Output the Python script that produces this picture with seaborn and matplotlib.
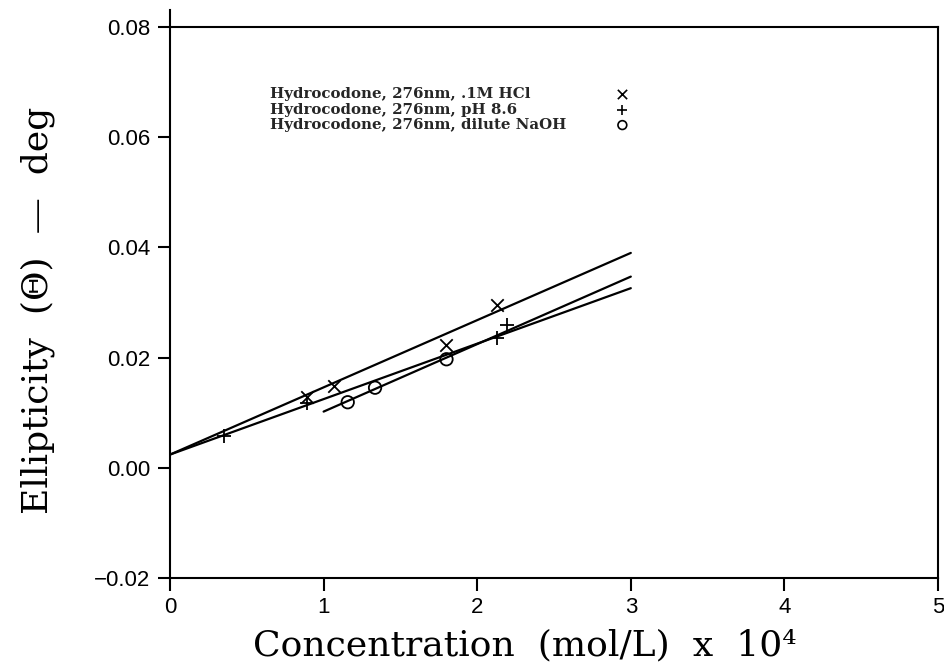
import matplotlib
matplotlib.use("Agg")
import matplotlib.pyplot as plt
import seaborn as sns

# Measured ellipticity vs. concentration (x 10^4 mol/L)
hcl_conc = [0.89, 1.07, 1.797, 2.131]
hcl_ellip = [0.0129, 0.01485, 0.0223, 0.0296]

ph86_conc = [0.352, 0.89, 2.131, 2.196]
ph86_ellip = [0.0058, 0.0118, 0.0235, 0.0259]

naoh_conc = [1.157, 1.335, 1.80]
naoh_ellip = [0.0119, 0.01454, 0.0197]

# Least-squares fit lines, given by their end points
hcl_fit_x = [0.0, 3.0]
hcl_fit_y = [0.0024, 0.0390]
ph86_fit_x = [0.0, 3.0]
ph86_fit_y = [0.0024, 0.0326]
naoh_fit_x = [1.0, 3.0]
naoh_fit_y = [0.0102, 0.0347]

legend_labels = [
    "Hydrocodone, 276nm, .1M HCl",
    "Hydrocodone, 276nm, pH 8.6",
    "Hydrocodone, 276nm, dilute NaOH",
]
x_ticks = [0, 1, 2, 3, 4, 5]
y_ticks = [-0.02, 0.00, 0.02, 0.04, 0.06, 0.08]

sns.set_theme(style="ticks")
plt.rcParams["font.family"] = ["Liberation Sans", "DejaVu Sans"]

fig = plt.figure(figsize=(9.45, 6.7), dpi=100)
ax = fig.add_axes([0.1799, 0.1373, 0.8127, 0.8224])

for fx, fy in [(hcl_fit_x, hcl_fit_y), (ph86_fit_x, ph86_fit_y), (naoh_fit_x, naoh_fit_y)]:
    sns.lineplot(x=fx, y=fy, ax=ax, color="black", linewidth=1.6)

sns.scatterplot(x=hcl_conc, y=hcl_ellip, ax=ax, marker="x", color="black",
                s=80, linewidth=1.3, zorder=5)
sns.scatterplot(x=ph86_conc, y=ph86_ellip, ax=ax, marker="+", color="black",
                s=90, linewidth=1.3, zorder=5)
ax.scatter(naoh_conc, naoh_ellip, marker="o", facecolors="none",
           edgecolors="black", s=80, linewidths=1.3, zorder=5)

# Legend: labels left-aligned, symbols in a column to the right
legend_markers = ["x", "+", "o"]
legend_y = [0.878, 0.850, 0.822]
for lab, mk, yy in zip(legend_labels, legend_markers, legend_y):
    ax.text(0.130, yy, lab, transform=ax.transAxes, ha="left", va="center",
            fontsize=10.8, fontweight="bold", family=["DejaVu Serif"])
    if mk == "o":
        ax.scatter([0.589], [yy], transform=ax.transAxes, marker=mk,
                   facecolors="none", edgecolors="black", s=40, linewidths=1.2)
    else:
        ax.scatter([0.589], [yy], transform=ax.transAxes, marker=mk,
                   color="black", s=45, linewidths=1.2)

ax.set_xlim(0, 5)
ax.set_ylim(-0.02, 0.08)
ax.set_xticks(x_ticks)
ax.set_xticklabels([str(t) for t in x_ticks])
ax.set_yticks(y_ticks)
ax.set_yticklabels([f"{t:.2f}".replace("-", "\u2212") for t in y_ticks])

for side in ["left", "bottom", "top", "right"]:
    ax.spines[side].set_color("black")
    ax.spines[side].set_linewidth(1.5)
ax.spines["left"].set_bounds(-0.02, 0.083)

ax.tick_params(axis="both", which="major", direction="out", length=9,
               width=1.5, color="black", labelsize=16, labelcolor="black",
               top=False, right=False, pad=5)

ax.set_xlabel("Concentration  (mol/L)  x  10\u2074", fontsize=26,
              family=["DejaVu Serif"], color="black")
ax.set_ylabel("Ellipticity  (\u0398)  \u2014  deg", fontsize=26,
              family=["DejaVu Serif"], color="black")
ax.xaxis.set_label_coords(0.462, -0.092)
ax.yaxis.set_label_coords(-0.150, 0.486)

fig.savefig("out.png", dpi=100, facecolor="white")
